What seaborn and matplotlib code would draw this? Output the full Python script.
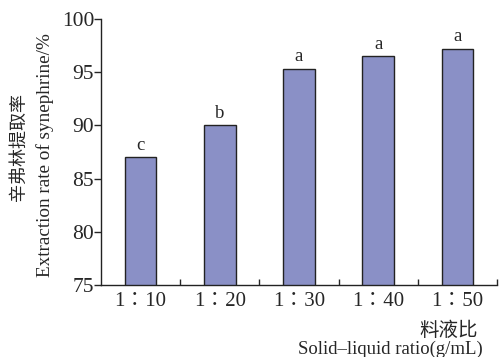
import matplotlib
matplotlib.use("Agg")
import matplotlib.pyplot as plt
import seaborn as sns
import pandas as pd
from matplotlib.ticker import FixedLocator

categories = ["1∶10", "1∶20", "1∶30", "1∶40", "1∶50"]
values = [87.0, 90.0, 95.3, 96.5, 97.2]
letters = ["c", "b", "a", "a", "a"]
yticks = [75, 80, 85, 90, 95, 100]

sns.set_style("ticks")
plt.rcParams['font.family'] = ['Liberation Serif', 'DejaVu Serif', 'Noto Sans CJK SC']

fig = plt.figure(figsize=(4.99, 3.57), dpi=100)
ax = fig.add_axes([0.2024, 0.2017, 0.7936, 0.7451])

df = pd.DataFrame({"ratio": categories, "rate": values})
sns.barplot(data=df, x="ratio", y="rate", color="#8a90c6", saturation=1,
            width=0.4, edgecolor="#222222", linewidth=1.0, ax=ax)

ax.set_ylim(75, 100)
ax.set_xlim(-0.5, 4.5)
ax.set_yticks(yticks)
ax.set_yticklabels([str(t) for t in yticks], fontsize=15.5)
ax.set_xticks(range(len(categories)))
ax.set_xticklabels(categories, fontsize=15)
ax.tick_params(axis='x', length=0, pad=5)
ax.tick_params(axis='y', length=5, width=1, direction='out', pad=0)
ax.xaxis.set_minor_locator(FixedLocator([0.5, 1.5, 2.5, 3.5, 4.5]))
ax.tick_params(axis='x', which='minor', length=4, width=1, direction='in')
ax.set_xlabel("")
ax.set_ylabel("")
sns.despine(ax=ax)
for s in ["left", "bottom"]:
    ax.spines[s].set_linewidth(1.0)
    ax.spines[s].set_color("#222222")

for i, (v, l) in enumerate(zip(values, letters)):
    ax.text(i, v + 0.35, l, ha='center', va='bottom', fontsize=13.5)

fig.text(0.038, 0.588, "辛弗林提取率", rotation=90, ha='center', va='center',
         fontsize=13, family=['Noto Sans CJK SC'])
fig.text(0.091, 0.566, "Extraction rate of synephrine/%", rotation=90,
         ha='center', va='center', fontsize=13.8)
fig.text(0.958, 0.075, "料液比", ha='right', va='center', fontsize=14,
         family=['Noto Sans CJK SC'])
fig.text(0.968, 0.022, "Solid–liquid ratio(g/mL)", ha='right', va='center',
         fontsize=13.5)

fig.savefig("out.png", dpi=100)
